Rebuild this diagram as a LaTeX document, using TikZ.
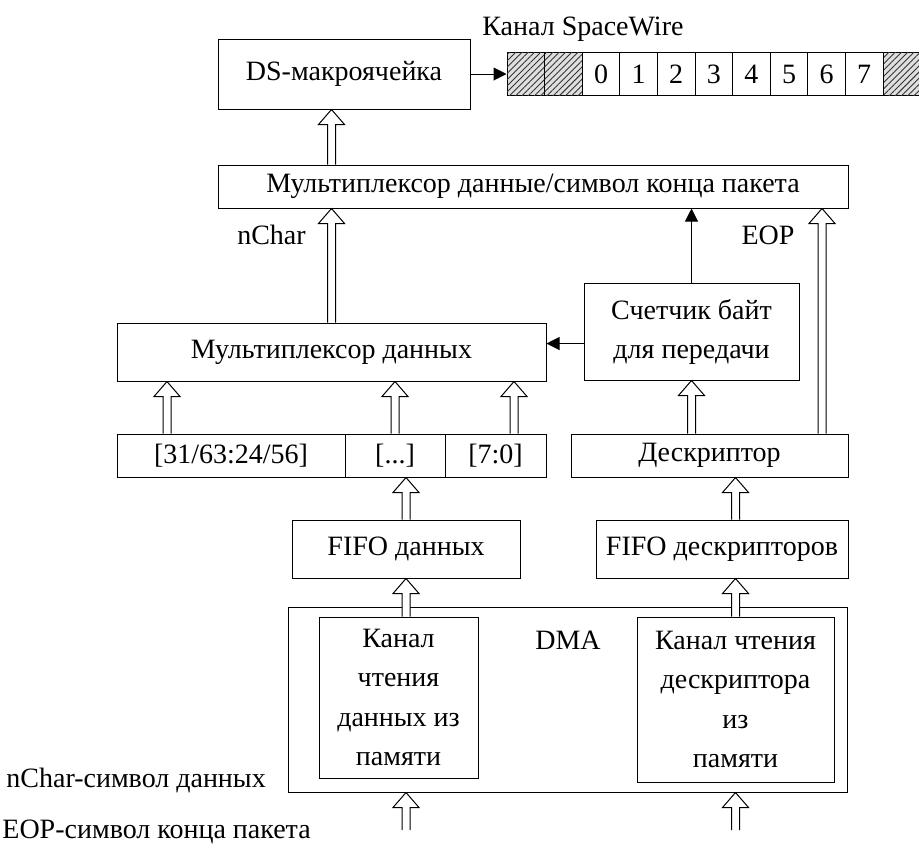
\documentclass[tikz,border=0pt]{standalone}
\usepackage{fontspec}
\setmainfont{Liberation Serif}
\usepackage{tikz}
\usetikzlibrary{calc, arrows.meta, patterns.meta, positioning}

\tikzset{
  blk/.style={draw, line width=0.5pt, inner sep=0pt, align=center},
  cell/.style={draw, line width=0.5pt, inner sep=0pt, minimum width=18.8pt, minimum height=21.5pt},
  hatched/.style={fill=gray!25, postaction={pattern={Lines[angle=45, distance=2.2pt, line width=0.45pt]}, pattern color=black!80}},
  solidarr/.style={line width=0.5pt, -{Triangle[length=6.5pt,width=6.5pt]}},
}
% полая стрелка вверх: от #1 до уровня #2
\newcommand{\hollowup}[2]{%
  \filldraw[fill=white, line width=0.5pt] let \p1=#1, \p2=#2 in
    (\x1-2pt,\y1) -- (\x1-2pt,\y2-7.5pt) -- (\x1-6.5pt,\y2-7.5pt) -- (\x1,\y2)
    -- (\x1+6.5pt,\y2-7.5pt) -- (\x1+2pt,\y2-7.5pt) -- (\x1+2pt,\y1);}

\begin{document}
\begin{tikzpicture}[x=0.5pt, y=-0.5pt, font=\fontsize{14pt}{19.5pt}\selectfont]
    \useasboundingbox (0,0) rectangle (919,848);

    % DS-макроячейка и канал
    \node[blk, minimum width=126pt, minimum height=35pt] (ds) at (344,74) {DS-макроячейка};
    \node[anchor=west, inner sep=0pt] (lblsw) at (482,29) {Канал SpaceWire};
    \foreach \i in {0,1,10}
        \node[cell, hatched] (c\i) at ({525.8+37.6*\i},74) {};
    \foreach \d [evaluate=\d as \i using int(\d+2)] in {0,...,7}
        \node[cell] (c\i) at ({525.8+37.6*\i},74) {\d};
    \draw[solidarr] (ds.east) -- (c0.west);

    % мультиплексоры
    \node[blk, minimum width=315pt, minimum height=21.5pt] (muxtop) at (533,186.5) {Мультиплексор данные/символ конца пакета};
    \node[blk, minimum width=214.5pt, minimum height=29pt] (muxd) at (331.5,352) {Мультиплексор данных};
    \node[blk, minimum width=107.5pt, minimum height=48.5pt] (cnt) at (691.5,331.5) {Счетчик байт\\для передачи};
    \node[inner sep=0pt] (nchar) at (271.5,235) {nChar};
    \node[inner sep=0pt] (eop) at (768,235) {EOP};

    % регистр и дескриптор
    \node[blk, minimum width=114pt, minimum height=21.5pt] (reg1) at (231,455.5) {[31/63:24/56]};
    \node[blk, minimum width=50pt, minimum height=21.5pt] (reg2) at (395,455.5) {[...]};
    \node[blk, minimum width=50.5pt, minimum height=21.5pt] (reg3) at (495.5,455.5) {[7:0]};
    \node[blk, minimum width=138.5pt, minimum height=21.5pt] (desc) at (709.5,455.5) {Дескриптор};

    % FIFO
    \node[blk, minimum width=114pt, minimum height=29pt] (fifoa) at (406,549) {FIFO данных};
    \node[blk, minimum width=126pt, minimum height=29pt] (fifod) at (722,549) {FIFO дескрипторов};

    % DMA
    \node[blk, minimum width=279.5pt, minimum height=92.5pt] (dma) at (567.5,699.5) {};
    \node[blk, minimum width=79.5pt, minimum height=80.5pt, font=\fontsize{14pt}{19.7pt}\selectfont] (dmal) at (398.5,697.5) {Канал\\чтения\\данных из\\памяти};
    \node[blk, minimum width=98.5pt, minimum height=82.5pt, font=\fontsize{14pt}{19.7pt}\selectfont] (dmar) at (735.5,699.5) {Канал чтения\\дескриптора\\из\\памяти};
    \node[inner sep=0pt] (dmalbl) at (568,640) {DMA};
    \node[anchor=west, inner sep=0pt] (note1) at (6,780) {nChar-символ данных};
    \node[anchor=west, inner sep=0pt] (note2) at (2,832) {EOP-символ конца пакета};
    \coordinate (ina) at (406,830);
    \coordinate (ind) at (735.5,830);

    % стрелки
    \hollowup{(muxtop.north -| muxd.north)}{(ds.south)}
    \hollowup{(muxd.north)}{(muxtop.south)}
    \hollowup{([xshift=56.25pt]desc.north)}{(muxtop.south)}
    \draw[solidarr] (cnt.north) -- (cnt.north |- muxtop.south);
    \draw[solidarr] ([yshift=-6pt]cnt.west) -- ([yshift=-6pt]cnt.west -| muxd.east);
    \hollowup{([xshift=-32pt]reg1.north)}{(muxd.south)}
    \hollowup{(reg2.north)}{(muxd.south)}
    \hollowup{([xshift=9.25pt]reg3.north)}{(muxd.south)}
    \hollowup{(desc.north -| cnt.south)}{(cnt.south)}
    \hollowup{(fifoa.north)}{(reg2.south)}
    \hollowup{(fifod.north -| dmar.north)}{(desc.south)}
    \hollowup{(dmal.north -| fifoa.south)}{(fifoa.south)}
    \hollowup{(dmar.north)}{(fifod.south)}
    \hollowup{(ina)}{(dma.south -| ina)}
    \hollowup{(ind)}{(dma.south -| ind)}
\end{tikzpicture}
\end{document}
